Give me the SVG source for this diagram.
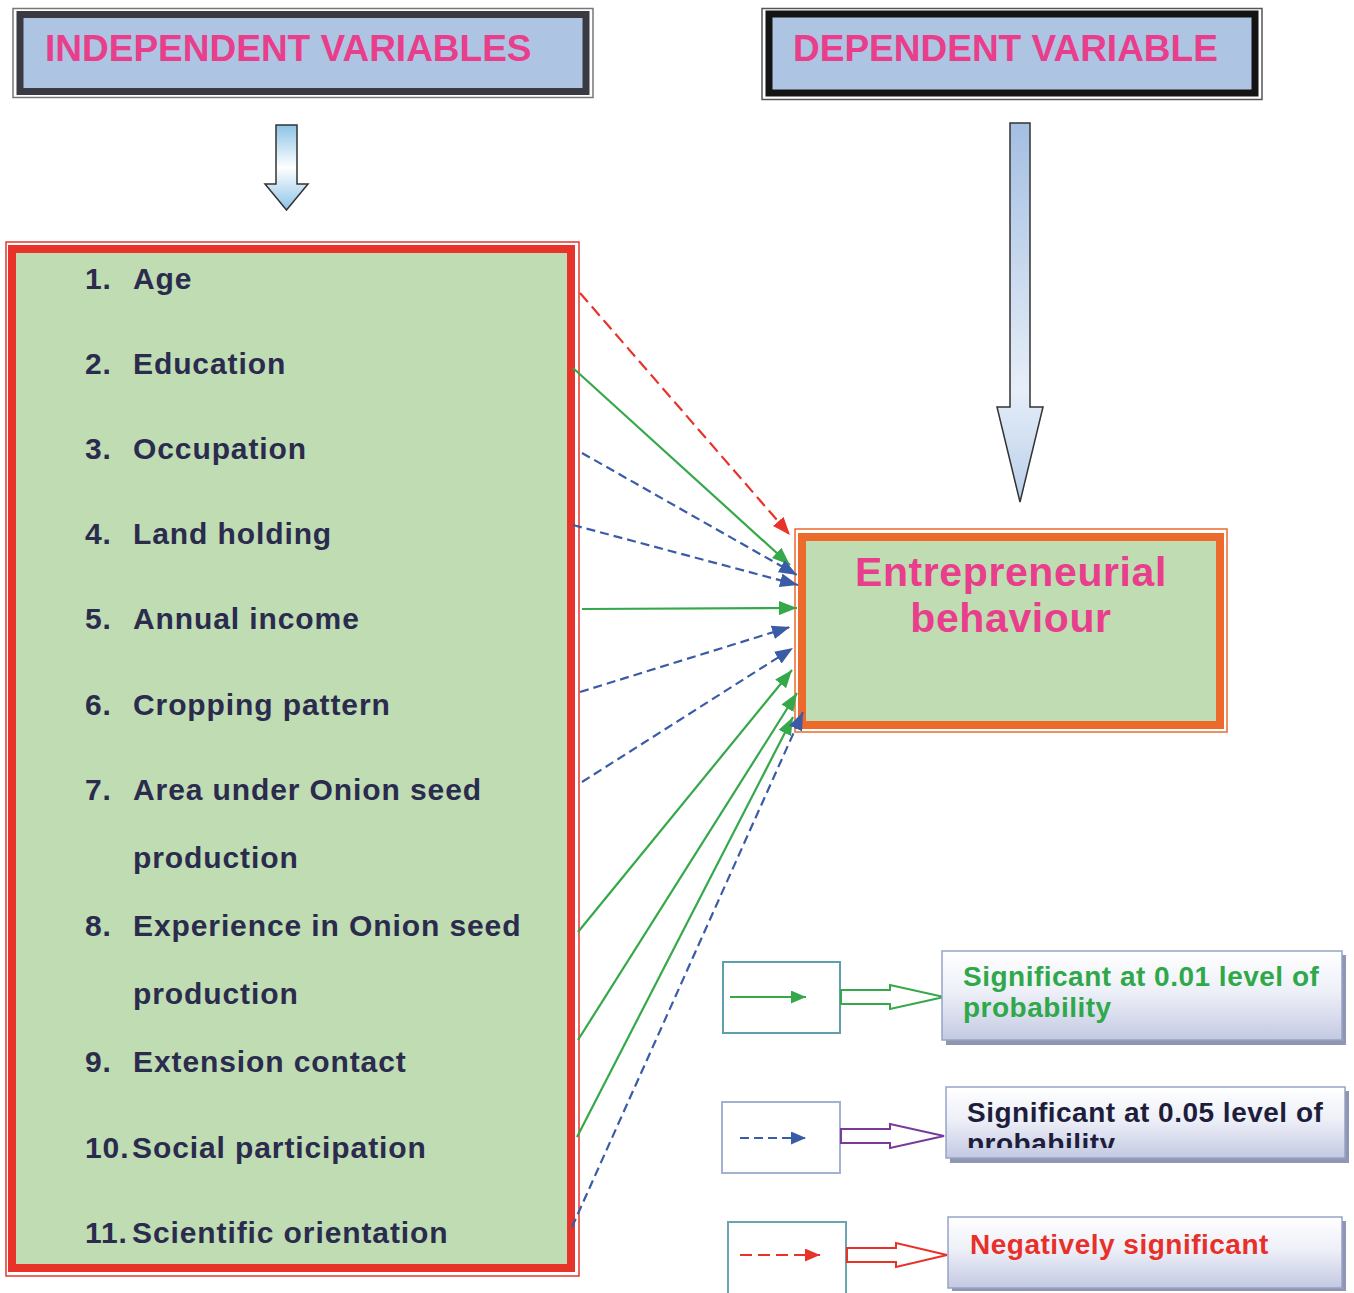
<svg xmlns="http://www.w3.org/2000/svg" width="1354" height="1293" viewBox="0 0 1354 1293">
<style>
text{font-family:"Liberation Sans",Arial,sans-serif;font-weight:bold}
.title{font-size:37px;fill:#e83e8c}
.item{font-size:30px;fill:#2b2b4e;letter-spacing:0.9px}
.leg{font-size:28px;letter-spacing:0.5px}
.c{fill:none;stroke-width:2.2}
.g{stroke:#35a84a}
.b{stroke:#3a5ca6;stroke-dasharray:9 5}
.r{stroke:#e8332b;stroke-dasharray:12 6}
</style>
<defs>
<linearGradient id="ga" x1="0" y1="0" x2="0" y2="1">
<stop offset="0" stop-color="#8cc3e6"/><stop offset="0.5" stop-color="#ffffff"/><stop offset="1" stop-color="#8cc3e6"/>
</linearGradient>
<linearGradient id="gb" x1="0" y1="0" x2="0" y2="1">
<stop offset="0" stop-color="#a4bfe2"/><stop offset="0.7" stop-color="#e6eef8"/><stop offset="1" stop-color="#b9cfea"/>
</linearGradient>
<linearGradient id="gl" x1="0" y1="0" x2="0" y2="1">
<stop offset="0" stop-color="#ffffff"/><stop offset="0.45" stop-color="#eef0f8"/><stop offset="1" stop-color="#c3c9e2"/>
</linearGradient>
<marker id="mg" markerUnits="userSpaceOnUse" markerWidth="18" markerHeight="14" viewBox="0 0 18 14" refX="18" refY="7" orient="auto"><path d="M0,0 L18,7 L0,14 z" fill="#35a84a"/></marker>
<marker id="mb" markerUnits="userSpaceOnUse" markerWidth="18" markerHeight="14" viewBox="0 0 18 14" refX="18" refY="7" orient="auto"><path d="M0,0 L18,7 L0,14 z" fill="#3a5ca6"/></marker>
<marker id="mr" markerUnits="userSpaceOnUse" markerWidth="18" markerHeight="14" viewBox="0 0 18 14" refX="18" refY="7" orient="auto"><path d="M0,0 L18,7 L0,14 z" fill="#e8332b"/></marker>
<marker id="mgs" markerUnits="userSpaceOnUse" markerWidth="15" markerHeight="13" viewBox="0 0 15 13" refX="15" refY="6.5" orient="auto"><path d="M0,0 L15,6.5 L0,13 z" fill="#35a84a"/></marker>
<marker id="mbs" markerUnits="userSpaceOnUse" markerWidth="15" markerHeight="13" viewBox="0 0 15 13" refX="15" refY="6.5" orient="auto"><path d="M0,0 L15,6.5 L0,13 z" fill="#3a5ca6"/></marker>
<marker id="mrs" markerUnits="userSpaceOnUse" markerWidth="15" markerHeight="13" viewBox="0 0 15 13" refX="15" refY="6.5" orient="auto"><path d="M0,0 L15,6.5 L0,13 z" fill="#e8332b"/></marker>
<clipPath id="clip2"><rect x="946" y="1087" width="400" height="61"/></clipPath>
</defs>

<g id="independent-title">
<rect x="13" y="8.5" width="580" height="89" fill="none" stroke="#777" stroke-width="1.5"/>
<rect x="20" y="14.5" width="566" height="77" fill="#adc5e3" stroke="#3a3a42" stroke-width="7"/>
<text class="title" x="45" y="61">INDEPENDENT VARIABLES</text>
</g>

<g id="dependent-title">
<rect x="762" y="8.5" width="500" height="91" fill="none" stroke="#555" stroke-width="1.5"/>
<rect x="769" y="14" width="486" height="79" fill="#adc5e3" stroke="#141414" stroke-width="7"/>
<text class="title" x="793" y="61">DEPENDENT VARIABLE</text>
</g>

<g id="arrow-small">
<path d="M276,125 H297 V184 H308 L286.5,210 L265,184 H276 Z" fill="url(#ga)" stroke="#333" stroke-width="1.5"/>
</g>

<g id="arrow-big">
<path d="M1010,123 H1030 V407 H1043 L1020,502 L997,407 H1010 Z" fill="url(#gb)" stroke="#333" stroke-width="1.5"/>
</g>

<g id="independent-list">
<rect x="6" y="242" width="573" height="1034" fill="none" stroke="#e8332b" stroke-width="1.5"/>
<rect x="12" y="249" width="559" height="1019" fill="#bfdcb3" stroke="#e8332b" stroke-width="8"/>
<text class="item" x="85" y="289">1.</text><text class="item" x="133" y="289">Age</text>
<text class="item" x="85" y="374">2.</text><text class="item" x="133" y="374">Education</text>
<text class="item" x="85" y="459">3.</text><text class="item" x="133" y="459">Occupation</text>
<text class="item" x="85" y="544">4.</text><text class="item" x="133" y="544">Land holding</text>
<text class="item" x="85" y="629">5.</text><text class="item" x="133" y="629">Annual income</text>
<text class="item" x="85" y="715">6.</text><text class="item" x="133" y="715">Cropping pattern</text>
<text class="item" x="85" y="800">7.</text><text class="item" x="133" y="800">Area under Onion seed</text>
<text class="item" x="133" y="868">production</text>
<text class="item" x="85" y="936">8.</text><text class="item" x="133" y="936">Experience in Onion seed</text>
<text class="item" x="133" y="1004">production</text>
<text class="item" x="85" y="1072">9.</text><text class="item" x="133" y="1072">Extension contact</text>
<text class="item" x="85" y="1158">10.</text><text class="item" x="132" y="1158">Social participation</text>
<text class="item" x="85" y="1243">11.</text><text class="item" x="132" y="1243">Scientific orientation</text>
</g>

<g id="entrepreneurial-behaviour">
<rect x="795" y="529" width="432" height="203" fill="none" stroke="#ec6a2c" stroke-width="1.5"/>
<rect x="802" y="537" width="418" height="188" fill="#bfdcb3" stroke="#ec6a2c" stroke-width="8"/>
<text x="1011" y="586" text-anchor="middle" font-size="41" letter-spacing="0.6" fill="#e83e8c">Entrepreneurial</text>
<text x="1011" y="632" text-anchor="middle" font-size="41" letter-spacing="0.6" fill="#e83e8c">behaviour</text>
</g>

<g id="connectors">
<line class="c r" x1="580" y1="293" x2="790" y2="535" marker-end="url(#mr)"/>
<line class="c g" x1="573" y1="368" x2="790" y2="565" marker-end="url(#mg)"/>
<line class="c b" x1="582" y1="453" x2="797" y2="575" marker-end="url(#mb)"/>
<line class="c b" x1="573" y1="525" x2="798" y2="585" marker-end="url(#mb)"/>
<line class="c g" x1="582" y1="609" x2="797" y2="608" marker-end="url(#mg)"/>
<line class="c b" x1="580" y1="692" x2="790" y2="627" marker-end="url(#mb)"/>
<line class="c b" x1="582" y1="782" x2="793" y2="648" marker-end="url(#mb)"/>
<line class="c g" x1="578" y1="932" x2="792" y2="670" marker-end="url(#mg)"/>
<line class="c g" x1="578" y1="1040" x2="797" y2="693" marker-end="url(#mg)"/>
<line class="c g" x1="577" y1="1137" x2="793" y2="717" marker-end="url(#mg)"/>
<line class="c b" x1="572" y1="1227" x2="803" y2="712" marker-end="url(#mb)"/>
</g>

<g id="legend-1">
<rect x="723" y="962" width="117" height="71" fill="#fff" stroke="#5f9fab" stroke-width="2"/>
<line class="c g" x1="730" y1="997" x2="806" y2="997" marker-end="url(#mgs)"/>
<path d="M841,990 H890 V985 L944,997 L890,1009 V1004 H841 Z" fill="#fff" stroke="#35a84a" stroke-width="2"/>
<rect x="946" y="955" width="400" height="90" fill="#8e96b0"/>
<rect x="942" y="951" width="400" height="89" fill="url(#gl)" stroke="#97a2c8" stroke-width="1.5"/>
<text class="leg" x="963" y="986" fill="#2fa84a">Significant at 0.01 level of</text>
<text class="leg" x="963" y="1017" fill="#2fa84a">probability</text>
</g>

<g id="legend-2">
<rect x="722" y="1102" width="118" height="71" fill="#fff" stroke="#a3b2d2" stroke-width="2"/>
<line class="c b" x1="740" y1="1138" x2="806" y2="1138" stroke-dasharray="7 4" marker-end="url(#mbs)"/>
<path d="M841,1129 H890 V1124 L944,1136 L890,1148 V1143 H841 Z" fill="#fff" stroke="#7b3a98" stroke-width="2"/>
<rect x="950" y="1091" width="399" height="72" fill="#8e96b0"/>
<rect x="946" y="1087" width="399" height="71" fill="url(#gl)" stroke="#97a2c8" stroke-width="1.5"/>
<g clip-path="url(#clip2)">
<text class="leg" x="967" y="1122" fill="#1e1e3c">Significant at 0.05 level of</text>
<text class="leg" x="967" y="1153" fill="#1e1e3c">probability</text>
</g>
</g>

<g id="legend-3">
<rect x="728" y="1222" width="118" height="75" fill="#fff" stroke="#6aa5b0" stroke-width="2"/>
<line class="c r" x1="740" y1="1255" x2="820" y2="1255" stroke-dasharray="7 4" marker-end="url(#mrs)"/>
<path d="M847,1248 H896 V1243 L947,1255 L896,1267 V1262 H847 Z" fill="#fff" stroke="#e8332b" stroke-width="2"/>
<rect x="952" y="1221" width="394" height="70" fill="#8e96b0"/>
<rect x="948" y="1217" width="394" height="71" fill="url(#gl)" stroke="#97a2c8" stroke-width="1.5"/>
<text class="leg" x="970" y="1254" fill="#e8302a">Negatively significant</text>
</g>
</svg>
